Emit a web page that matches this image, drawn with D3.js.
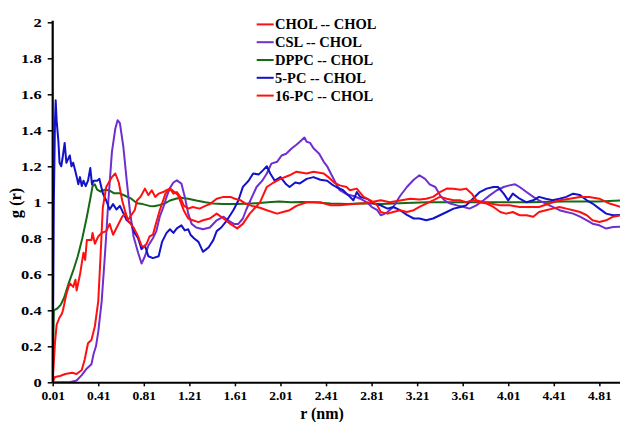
<!DOCTYPE html>
<html>
<head>
<meta charset="utf-8">
<script src="https://cdn.jsdelivr.net/npm/d3@7"></script>
<style>
  html, body { margin: 0; padding: 0; background: #fff; }
  svg { display: block; }
  text { font-family: "Liberation Serif", "Times New Roman", serif; font-weight: bold; fill: #000; }
</style>
</head>
<body>
<svg id="chart" width="620" height="422"></svg>
<script>
// ---- data (r in nm, g(r)) ----
const seriesNames = ["CHOL -- CHOL", "CSL -- CHOL", "DPPC -- CHOL", "5-PC -- CHOL", "16-PC -- CHOL"];
const seriesColors = ["#ff1010", "#6f2fd0", "#166a16", "#1212c8", "#ff1010"];

const xTickValues = [0.01, 0.41, 0.81, 1.21, 1.61, 2.01, 2.41, 2.81, 3.21, 3.61, 4.01, 4.41, 4.81];
const xTickLabels = ["0.01", "0.41", "0.81", "1.21", "1.61", "2.01", "2.41", "2.81", "3.21", "3.61", "4.01", "4.41", "4.81"];
const yTickValues = [0, 0.2, 0.4, 0.6, 0.8, 1, 1.2, 1.4, 1.6, 1.8, 2];
const yTickLabels = ["0", "0.2", "0.4", "0.6", "0.8", "1", "1.2", "1.4", "1.6", "1.8", "2"];

const cholChol = [[0.01,0],[0.03,0.22],[0.045,0.32],[0.07,0.36],[0.09,0.38],[0.10,0.40],[0.12,0.46],[0.13,0.49],[0.16,0.55],[0.19,0.53],[0.21,0.57],[0.22,0.51],[0.25,0.60],[0.28,0.72],[0.295,0.68],[0.31,0.79],[0.35,0.79],[0.36,0.83],[0.38,0.77],[0.41,0.81],[0.44,0.83],[0.48,0.84],[0.51,0.88],[0.54,0.82],[0.58,0.87],[0.62,0.92],[0.65,0.94],[0.67,0.90],[0.69,0.92],[0.73,0.956],[0.75,1.01],[0.78,1.03],[0.82,1.076],[0.85,1.04],[0.88,1.067],[0.91,1.03],[0.94,1.048],[0.98,1.057],[1.01,1.067],[1.04,1.076],[1.07,1.048],[1.10,1.057],[1.13,1.03],[1.16,0.983],[1.20,0.965],[1.24,0.974],[1.30,0.965],[1.35,0.98],[1.39,0.99],[1.45,1.02],[1.51,1.03],[1.57,1.03],[1.61,1.02],[1.66,1.011],[1.71,0.99],[1.76,0.98],[1.83,0.97],[1.89,0.956],[1.98,0.937],[2.04,0.947],[2.09,0.956],[2.15,0.98],[2.24,1.0],[2.36,1.0],[2.45,0.983],[2.53,0.983],[2.65,0.99],[2.75,0.995],[2.80,1.0],[2.89,1.011],[2.97,1.0],[3.06,1.01],[3.15,1.02],[3.23,1.015],[3.29,1.02],[3.35,1.03],[3.41,1.057],[3.47,1.076],[3.53,1.075],[3.59,1.07],[3.64,1.076],[3.69,1.048],[3.73,1.011],[3.79,1.0],[3.85,0.993],[3.94,0.983],[4.02,0.983],[4.11,0.974],[4.2,0.974],[4.28,0.974],[4.37,0.993],[4.46,1.011],[4.55,1.02],[4.64,1.03],[4.72,1.03],[4.81,1.02],[4.90,0.993],[5.0,0.974]];

const cslChol = [[0.01,0],[0.16,0],[0.22,0.01],[0.265,0.04],[0.31,0.077],[0.35,0.10],[0.37,0.16],[0.39,0.20],[0.41,0.28],[0.44,0.45],[0.47,0.72],[0.50,1.02],[0.53,1.28],[0.56,1.41],[0.58,1.456],[0.60,1.44],[0.63,1.31],[0.66,1.12],[0.69,0.94],[0.72,0.81],[0.76,0.72],[0.79,0.66],[0.82,0.70],[0.85,0.76],[0.89,0.80],[0.92,0.84],[0.95,0.92],[0.98,0.97],[1.01,1.03],[1.04,1.08],[1.07,1.11],[1.10,1.122],[1.14,1.104],[1.17,1.03],[1.20,0.937],[1.23,0.88],[1.27,0.86],[1.33,0.85],[1.39,0.86],[1.45,0.90],[1.51,0.92],[1.55,0.90],[1.60,0.88],[1.64,0.88],[1.68,0.91],[1.71,0.96],[1.76,1.03],[1.80,1.085],[1.85,1.12],[1.89,1.16],[1.93,1.215],[1.98,1.225],[2.02,1.26],[2.06,1.27],[2.11,1.30],[2.15,1.32],[2.18,1.336],[2.22,1.36],[2.24,1.336],[2.27,1.33],[2.30,1.30],[2.35,1.27],[2.39,1.225],[2.42,1.20],[2.46,1.15],[2.50,1.10],[2.53,1.067],[2.59,1.045],[2.65,1.035],[2.71,1.02],[2.77,1.0],[2.81,0.975],[2.86,0.956],[2.89,0.928],[2.92,0.935],[2.95,0.946],[3.0,0.974],[3.06,1.035],[3.12,1.085],[3.18,1.125],[3.23,1.15],[3.28,1.13],[3.32,1.10],[3.37,1.085],[3.41,1.04],[3.45,1.011],[3.50,0.993],[3.56,0.983],[3.62,0.974],[3.67,0.965],[3.73,0.983],[3.79,1.01],[3.85,1.04],[3.91,1.067],[3.97,1.085],[4.02,1.094],[4.07,1.10],[4.11,1.085],[4.17,1.057],[4.23,1.03],[4.28,1.011],[4.34,0.993],[4.40,0.974],[4.46,0.956],[4.52,0.946],[4.58,0.937],[4.64,0.92],[4.70,0.90],[4.75,0.881],[4.81,0.872],[4.87,0.854],[4.93,0.863],[5.0,0.865]];

const dppcChol = [[0.01,0],[0.02,0.40],[0.05,0.41],[0.08,0.43],[0.11,0.47],[0.15,0.55],[0.19,0.62],[0.23,0.70],[0.27,0.80],[0.31,0.92],[0.34,1.02],[0.36,1.09],[0.38,1.10],[0.40,1.07],[0.43,1.06],[0.47,1.07],[0.51,1.065],[0.55,1.05],[0.60,1.05],[0.65,1.035],[0.70,1.02],[0.75,0.995],[0.80,0.99],[0.86,0.98],[0.90,0.978],[0.95,0.985],[1.0,0.995],[1.04,1.01],[1.09,1.02],[1.13,1.025],[1.20,1.02],[1.27,1.01],[1.35,1.0],[1.42,0.993],[1.5,0.99],[1.6,0.99],[1.7,0.992],[1.8,0.995],[1.9,1.0],[2.0,1.005],[2.1,1.0],[2.2,1.002],[2.3,1.0],[2.45,0.993],[2.6,0.99],[2.75,0.995],[2.9,0.99],[3.05,0.995],[3.3,1.0],[3.6,1.0],[3.9,1.0],[4.2,1.0],[4.5,1.005],[4.8,1.005],[5.0,1.01]];

const pc5Chol = [[0.01,0],[0.02,1.0],[0.03,1.45],[0.036,1.567],[0.045,1.45],[0.06,1.34],[0.07,1.22],[0.085,1.20],[0.10,1.26],[0.115,1.33],[0.13,1.22],[0.145,1.24],[0.16,1.26],[0.175,1.20],[0.19,1.22],[0.21,1.17],[0.225,1.13],[0.235,1.10],[0.25,1.14],[0.265,1.09],[0.28,1.12],[0.30,1.09],[0.32,1.12],[0.34,1.19],[0.355,1.10],[0.37,1.12],[0.40,1.12],[0.42,1.13],[0.45,1.05],[0.48,1.01],[0.51,0.96],[0.54,0.99],[0.57,0.96],[0.60,0.98],[0.63,0.94],[0.66,0.90],[0.70,0.88],[0.73,0.83],[0.76,0.80],[0.79,0.74],[0.82,0.76],[0.85,0.70],[0.89,0.69],[0.94,0.70],[0.97,0.78],[1.01,0.83],[1.04,0.85],[1.07,0.83],[1.10,0.855],[1.14,0.872],[1.17,0.844],[1.20,0.85],[1.22,0.82],[1.25,0.80],[1.29,0.78],[1.33,0.725],[1.36,0.74],[1.38,0.75],[1.42,0.79],[1.45,0.84],[1.49,0.86],[1.54,0.90],[1.60,0.96],[1.64,1.01],[1.68,1.086],[1.73,1.12],[1.77,1.16],[1.82,1.155],[1.86,1.18],[1.89,1.20],[1.92,1.16],[1.96,1.12],[2.01,1.14],[2.06,1.10],[2.09,1.085],[2.14,1.11],[2.18,1.105],[2.24,1.13],[2.30,1.14],[2.36,1.125],[2.42,1.12],[2.46,1.10],[2.50,1.085],[2.56,1.067],[2.62,1.03],[2.65,1.011],[2.68,1.057],[2.71,1.03],[2.77,1.02],[2.83,0.993],[2.89,0.983],[2.95,0.965],[3.0,0.974],[3.06,0.956],[3.12,0.93],[3.18,0.91],[3.23,0.91],[3.29,0.9],[3.35,0.91],[3.41,0.928],[3.47,0.946],[3.53,0.965],[3.59,0.974],[3.64,0.983],[3.70,1.02],[3.76,1.057],[3.82,1.076],[3.88,1.085],[3.92,1.085],[3.97,1.048],[4.01,1.011],[4.05,1.048],[4.11,1.02],[4.17,1.0],[4.23,1.011],[4.28,1.03],[4.34,1.02],[4.40,1.011],[4.46,1.02],[4.52,1.03],[4.58,1.048],[4.64,1.04],[4.70,1.011],[4.75,0.993],[4.81,0.965],[4.87,0.937],[4.93,0.928],[5.0,0.93]];

const pc16Chol = [[0.01,0],[0.03,0.03],[0.074,0.035],[0.12,0.046],[0.18,0.053],[0.22,0.046],[0.265,0.068],[0.29,0.124],[0.32,0.217],[0.35,0.235],[0.38,0.31],[0.41,0.45],[0.43,0.70],[0.45,0.97],[0.48,1.085],[0.53,1.14],[0.56,1.16],[0.59,1.11],[0.62,1.01],[0.65,0.94],[0.67,0.90],[0.72,0.86],[0.76,0.81],[0.79,0.76],[0.81,0.75],[0.835,0.77],[0.86,0.81],[0.89,0.82],[0.91,0.867],[0.95,0.956],[1.0,1.048],[1.04,1.076],[1.08,1.057],[1.11,1.04],[1.16,0.956],[1.20,0.91],[1.24,0.90],[1.29,0.89],[1.33,0.90],[1.39,0.91],[1.45,0.937],[1.51,0.91],[1.57,0.88],[1.63,0.855],[1.68,0.88],[1.74,0.937],[1.83,1.0],[1.89,1.085],[1.95,1.11],[2.01,1.13],[2.09,1.15],[2.15,1.17],[2.24,1.16],[2.30,1.17],[2.39,1.16],[2.43,1.14],[2.48,1.11],[2.53,1.094],[2.59,1.085],[2.62,1.067],[2.68,1.076],[2.74,1.03],[2.80,1.011],[2.86,0.983],[2.89,0.946],[2.95,0.937],[3.0,0.946],[3.06,0.956],[3.12,0.946],[3.18,0.956],[3.23,0.974],[3.29,0.993],[3.35,1.011],[3.41,1.03],[3.47,1.02],[3.53,1.011],[3.59,1.011],[3.64,1.0],[3.70,1.011],[3.76,1.0],[3.82,0.993],[3.88,0.974],[3.94,0.946],[3.99,0.937],[4.05,0.946],[4.11,0.928],[4.17,0.928],[4.23,0.92],[4.28,0.946],[4.34,0.956],[4.40,0.965],[4.46,0.974],[4.52,0.965],[4.58,0.956],[4.64,0.946],[4.70,0.928],[4.75,0.90],[4.81,0.891],[4.87,0.90],[4.93,0.92],[5.0,0.928]];

const seriesData = [cholChol, cslChol, dppcChol, pc5Chol, pc16Chol];
const drawOrder = [2, 1, 3, 0, 4];

// ---- layout ----
const svg = d3.select("#chart");
const mLeft = 52.7, mRight = 621, mTop = 22.3, mBottom = 382.3;

const x = d3.scaleLinear().domain([0.01, 5.0]).range([mLeft, mRight]);
const y = d3.scaleLinear().domain([0, 2]).range([mBottom, mTop]);

const plot = svg.append("g");
plot.append("clipPath").attr("id", "clip")
  .append("rect").attr("x", mLeft).attr("y", 0).attr("width", 620 - mLeft).attr("height", mBottom + 1);

const line = d3.line().x(d => x(d[0])).y(d => y(d[1]));

const lines = plot.append("g").attr("clip-path", "url(#clip)");
drawOrder.forEach(i => {
  lines.append("path")
    .datum(seriesData[i])
    .attr("fill", "none")
    .attr("stroke", seriesColors[i])
    .attr("stroke-width", 2)
    .attr("stroke-linejoin", "round")
    .attr("d", line);
});

// ---- axes ----
const xAxis = d3.axisBottom(x)
  .tickValues(xTickValues)
  .tickFormat((d, i) => xTickLabels[i])
  .tickSizeInner(4).tickSizeOuter(0).tickPadding(4);
const gx = svg.append("g").attr("transform", `translate(0,${mBottom})`).call(xAxis);
gx.select(".domain").attr("stroke", "#000").attr("stroke-width", 2);
gx.selectAll(".tick line").attr("stroke", "#000").attr("stroke-width", 1.5);
gx.selectAll(".tick text").attr("font-size", 13.5).attr("font-family", "Liberation Serif").attr("font-weight", "bold");

const yAxis = d3.axisLeft(y)
  .tickValues(yTickValues)
  .tickFormat((d, i) => yTickLabels[i])
  .tickSizeInner(5).tickSizeOuter(0);
const gy = svg.append("g").attr("transform", `translate(${mLeft},0)`).call(yAxis);
gy.select(".domain").attr("stroke", "#000").attr("stroke-width", 2.2)
  .attr("d", `M0,${mTop - 1.5}V${mBottom}`);
gy.selectAll(".tick line").attr("stroke", "#000").attr("stroke-width", 1.5);
gy.selectAll(".tick text")
  .attr("font-size", 13.5).attr("font-family", "Liberation Serif").attr("font-weight", "bold")
  .attr("x", 0)
  .attr("transform", "translate(-11,0) scale(1.22,1)");

// axis titles
svg.append("text")
  .attr("x", 322).attr("y", 418.5)
  .attr("text-anchor", "middle")
  .attr("font-size", 16)
  .text("r (nm)");

svg.append("text")
  .attr("transform", "translate(21,203) rotate(-90)")
  .attr("text-anchor", "middle")
  .attr("font-size", 16.5)
  .text("g (r)");

// ---- legend ----
const legend = svg.append("g").attr("transform", "translate(256.7,24.4)");
seriesNames.forEach((name, i) => {
  const row = legend.append("g").attr("transform", `translate(0,${i * 17.8})`);
  row.append("line").attr("x1", 0).attr("x2", 17).attr("y1", 0).attr("y2", 0)
    .attr("stroke", seriesColors[i]).attr("stroke-width", 2);
  row.append("text").attr("x", 18.3).attr("y", 4.9)
    .attr("font-size", 14.5).text(name);
});
</script>
</body>
</html>
